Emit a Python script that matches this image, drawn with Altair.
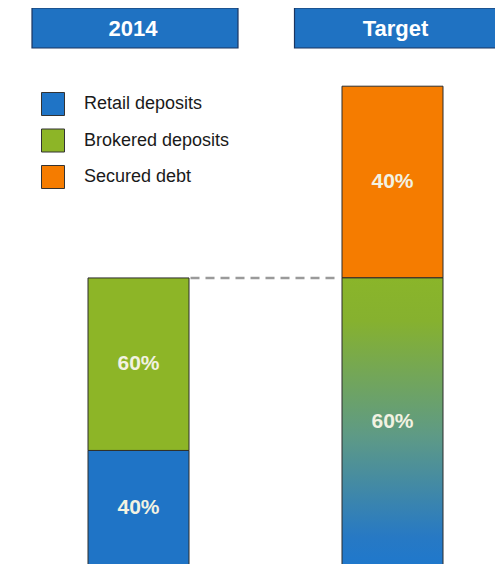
import altair as alt
import pandas as pd

# ---- data ----
bars = ["2014", "2014", "Target", "Target"]
sources = ["Retail deposits", "Brokered deposits", "Deposits", "Secured debt"]
shares = [40, 60, 60, 40]               # % of each bar
bar_totals = [100, 100, 166.7, 166.7]   # relative size of each bar
legend_items = ["Retail deposits", "Brokered deposits", "Secured debt"]
legend_colors = ["#1f74c6", "#8db527", "#f57c00"]
headers = ["2014", "Target"]
ref_from = ["2014"]
ref_to = ["Target"]
ref_level = [100]

# ---- build table ----
df = pd.DataFrame({"bar": bars, "source": sources, "share": shares, "total": bar_totals})
df["h"] = df["share"] * df["total"] / 100
df["y1"] = df.groupby("bar")["h"].cumsum()
df["y0"] = df["y1"] - df["h"]
df["mid"] = (df["y0"] + df["y1"]) / 2
df["label"] = df["share"].astype(str) + "%"

hdr = pd.DataFrame({"header": headers})
ref = pd.DataFrame({"from": ref_from, "to": ref_to, "level": ref_level})

W, H = 487, 556
bar_scale = alt.Scale(domain=headers, range=[3.5, 511.5], paddingInner=0, paddingOuter=0)
hdr_scale = alt.Scale(domain=headers, range=[-4.25, 520.75], paddingInner=0, paddingOuter=0)
y_scale = alt.Scale(domain=[0.5, 193.9], nice=False, zero=False)
FONT = "Liberation Sans"

header_box = alt.Chart(hdr).mark_bar(
    size=206, color="#1f72c2", stroke="#1b3560", strokeWidth=1.2
).encode(
    x=alt.X("header:N", scale=hdr_scale, axis=None),
    y=alt.value(0), y2=alt.value(40),
)
header_text = alt.Chart(hdr).mark_text(
    color="white", fontSize=22, fontWeight="bold", font=FONT, baseline="middle",
    dx=-2,
).encode(
    x=alt.X("header:N", scale=hdr_scale, axis=None),
    y=alt.value(21),
    text="header:N",
)

solid = alt.Chart(df).transform_filter(
    alt.FieldOneOfPredicate(field="source", oneOf=legend_items)
).mark_bar(size=101, stroke="#2d2d2d", strokeWidth=1, clip=True).encode(
    x=alt.X("bar:N", scale=bar_scale, axis=None),
    y=alt.Y("y1:Q", scale=y_scale, axis=None),
    y2="y0:Q",
    color=alt.Color(
        "source:N",
        scale=alt.Scale(domain=legend_items, range=legend_colors),
        legend=alt.Legend(
            title=None, orient="none", legendX=33, legendY=84, padding=0,
            symbolType="square", symbolSize=529, symbolStrokeColor="#333333",
            symbolStrokeWidth=1, symbolOpacity=1,
            labelFont=FONT, labelFontSize=18, labelColor="#1a1a1a",
            labelOffset=19, rowPadding=8.5,
        ),
    ),
)

grad = alt.Gradient(
    gradient="linear",
    stops=[
        alt.GradientStop(color="#8ab52a", offset=0),
        alt.GradientStop(color="#86b12f", offset=0.15),
        alt.GradientStop(color="#5e9a86", offset=0.55),
        alt.GradientStop(color="#2779c4", offset=0.9),
        alt.GradientStop(color="#1f78cc", offset=1),
    ],
    x1=0, x2=0, y1=0, y2=1,
)
mixed = alt.Chart(df).transform_filter(
    alt.datum.source == "Deposits"
).mark_bar(size=101, stroke="#2d2d2d", strokeWidth=1, fill=grad, clip=True).encode(
    x=alt.X("bar:N", scale=bar_scale, axis=None),
    y=alt.Y("y1:Q", scale=y_scale, axis=None),
    y2="y0:Q",
)

labels = alt.Chart(df).mark_text(
    color="#f2f2e2", fontSize=21, fontWeight="bold", font=FONT, baseline="middle"
).encode(
    x=alt.X("bar:N", scale=bar_scale, axis=None),
    y=alt.Y("mid:Q", scale=y_scale, axis=None),
    text="label:N",
)

dash = alt.Chart(ref).mark_rule(
    color="#9a9a9a", strokeWidth=2.5, strokeDash=[9, 6], xOffset=52, x2Offset=-52
).encode(
    x=alt.X("from:N", scale=bar_scale, axis=None),
    x2="to:N",
    y=alt.Y("level:Q", scale=y_scale, axis=None),
)

chart = alt.layer(header_box, header_text, dash, solid, mixed, labels).resolve_scale(
    x="independent"
).properties(
    width=W, height=H, padding=0, autosize=alt.AutoSizeParams(type="none")
).configure_view(stroke=None)

chart.save("out.html", embed_options={"renderer": "svg", "actions": False})
